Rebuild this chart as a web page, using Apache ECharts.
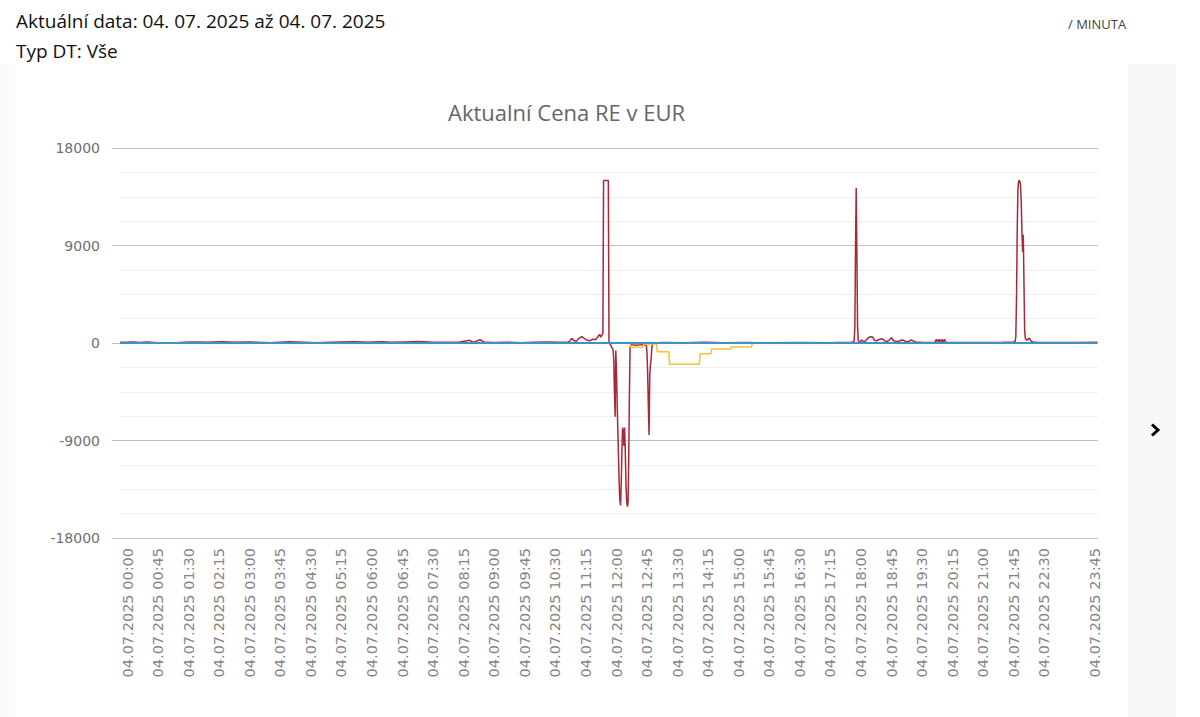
<!DOCTYPE html>
<html>
<head>
<meta charset="utf-8">
<script src="https://cdn.jsdelivr.net/npm/echarts@6/dist/echarts.min.js"></script>
<style>
  html,body{margin:0;padding:0;background:#fff;width:1200px;height:717px;overflow:hidden;font-family:"Open Sans","Noto Sans",sans-serif;}
  #leftStrip{position:absolute;left:0;top:64px;width:15px;height:653px;background:#fafafa;}
  #rightStrip{position:absolute;left:1128px;top:64px;width:48px;height:653px;background:#f8f8f8;}
  #chart{position:absolute;left:0;top:0;width:1200px;height:717px;}
  .hdr{position:absolute;color:#111;font-size:19px;white-space:nowrap;}
  #minuta{position:absolute;left:1068px;top:15px;font-size:13px;color:#444;white-space:nowrap;}
  #arrow{position:absolute;left:1148px;top:422px;}
</style>
</head>
<body>
<div id="leftStrip"></div>
<div id="rightStrip"></div>
<div id="chart"></div>
<div class="hdr" style="left:16px;top:8px;">Aktuální data: 04. 07. 2025 až 04. 07. 2025</div>
<div class="hdr" style="left:16px;top:38px;">Typ DT: Vše</div>
<div id="minuta">/ MINUTA</div>
<svg id="arrow" width="16" height="16" viewBox="0 0 16 16"><polyline points="4,2.5 10,8 4,13.5" fill="none" stroke="#000" stroke-width="3"/></svg>
<script>
// minutes of the day 04.07.2025 -> value (EUR)
const redSeries = [
  [0,80],[10,60],[20,90],[30,40],[40,100],[55,30],[60,20],[70,0],[80,10],[95,70],[110,90],[130,60],[150,110],[170,80],[190,100],[205,60],[220,30],[235,80],[250,110],[270,70],[290,20],[310,60],[325,90],[345,120],[365,80],[385,110],[400,60],[420,100],[440,130],[460,80],[480,60],[500,90],[515,250],[520,60],[530,300],[537,60],[550,40],[570,80],[590,30],[610,60],[630,90],[645,60],[660,100],
  [662,150],[665,430],[669,200],[672,150],[676,450],[680,580],[684,400],[688,250],[692,200],[696,350],[700,300],[704,600],[706,800],[708,550],[710,800],[711,900],
  [712,15000],[719,15000],[720,150],[722,-150],[724,-400],[726,-600],[727,-1500],[728,-4500],[729,-6800],[730,-700],
  [731,-2500],[732,-5500],[733,-8000],[734,-10500],[735,-13000],[736,-14500],[737,-15000],[738,-13000],[739,-10000],[740,-7800],[741,-8200],[742,-9500],[743,-7800],
  [744,-10000],[745,-13000],[746,-14600],[747,-15100],[748,-14800],[749,-11000],[750,-5000],[751,-500],[752,-150],
  [760,-200],[770,-150],[775,-200],[776,-1000],[777,-3000],[778,-6000],[779,-8500],[780,-3000],[781,-2000],[782,-1500],[783,-500],[784,0],
  [800,40],[830,20],[860,60],[890,30],[920,50],[960,20],[1000,40],[1040,30],[1078,60],
  [1081,200],[1082,1500],[1083,9000],[1084,14300],[1085,8000],[1086,1500],[1087,200],
  [1090,100],[1092,280],[1095,120],[1098,200],[1102,500],[1105,580],[1108,560],[1111,250],[1114,200],[1117,300],[1120,370],[1123,370],[1126,180],[1130,150],[1133,300],[1136,490],[1139,200],[1143,150],[1148,180],[1151,280],[1154,250],[1157,120],[1161,130],[1165,280],[1168,200],[1172,80],[1180,60],[1190,50],[1200,80],[1202,340],[1204,80],[1206,340],[1208,80],[1210,340],[1212,80],[1214,330],[1216,60],[1230,50],[1260,40],[1290,50],
  [1300,60],[1315,80],[1318,150],[1319,600],[1320,4000],[1321,10000],[1322,14000],[1323,14900],[1324,15000],[1325,14900],[1326,14500],[1327,13000],[1328,10300],[1329,8400],[1330,10000],[1331,5500],[1332,1200],[1333,400],[1335,250],[1337,350],[1339,450],[1341,200],[1344,100],[1350,60],[1380,50],[1410,40],[1439,60]
];
const yellowSeries = [
  [751,0],[752,-400],[770,-400],[771,-100],[790,-100],[791,-800],[808,-800],[809,-1970],[853,-1970],[854,-1000],[870,-1000],[871,-550],[899,-550],[900,-380],[930,-380],[931,0]
];
const blueSeries = [
  [0,0],[400,0],[800,0],[1200,0],[1439,0]
];
const tickMinutes = [0,45,90,135,180,225,270,315,360,405,450,495,540,585,630,675,720,765,810,855,900,945,990,1035,1080,1125,1170,1215,1260,1305,1350,1425];
const yTicks = [-18000,-9000,0,9000,18000];

function fmtMin(m){
  const h = Math.floor(m/60), mm = m%60;
  return '04.07.2025 ' + String(h).padStart(2,'0') + ':' + String(mm).padStart(2,'0');
}

const chart = echarts.init(document.getElementById('chart'), null, {renderer:'svg'});
chart.setOption({
  backgroundColor: 'transparent',
  animation: false,
  title: {
    text: 'Aktualní Cena RE v EUR',
    left: 443, top: 96,
    textStyle: {fontFamily:'Open Sans', fontSize: 22, fontWeight: 'normal', color: '#666'}
  },
  grid: {left: 120, right: 102, top: 148, bottom: 179, containLabel: false},
  xAxis: {
    type: 'value', min: 0, max: 1440,
    axisLine: {show: false},
    axisTick: {show: false},
    splitLine: {show: false},
    axisLabel: {
      customValues: tickMinutes,
      rotate: 90, margin: 10,
      verticalAlign: 'top',
      fontFamily: 'DejaVu Sans', fontSize: 14.5, color: '#858585',
      formatter: v => fmtMin(v)
    }
  },
  yAxis: {
    type: 'value', min: yTicks[0], max: yTicks[yTicks.length-1], interval: 9000,
    axisLine: {show: false},
    axisTick: {show: true, length: 8, lineStyle: {color: '#c0c0c0'}},
    axisLabel: {margin: 20, fontFamily: 'DejaVu Sans', fontSize: 14, color: '#707070', formatter: v => String(v)},
    splitLine: {show: true, lineStyle: {color: '#c0c0c0', width: 1}},
    minorTick: {show: false, splitNumber: 4},
    minorSplitLine: {show: true, lineStyle: {color: '#efefef', width: 1}}
  },
  series: [
    {type: 'line', data: redSeries, showSymbol: false, lineStyle: {color: '#a8283a', width: 1.5}, itemStyle:{color:'#a8283a'}, z: 2},
    {type: 'line', data: yellowSeries, showSymbol: false, lineStyle: {color: '#f0c330', width: 1.5}, itemStyle:{color:'#f0c330'}, z: 3},
    {type: 'line', data: blueSeries, showSymbol: false, lineStyle: {color: '#3a93c3', width: 2}, itemStyle:{color:'#3a93c3'}, z: 4}
  ]
});
</script>
</body>
</html>
